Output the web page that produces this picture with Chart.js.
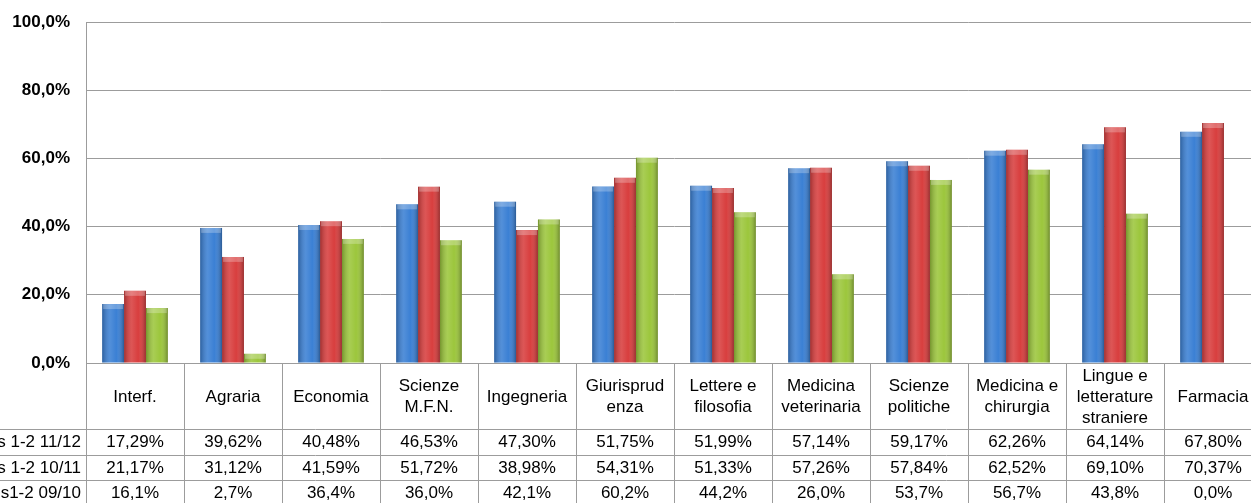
<!DOCTYPE html>
<html>
<head>
<meta charset="utf-8">
<script src="https://cdn.jsdelivr.net/npm/chart.js@4"></script>
<style>
  html, body { margin: 0; padding: 0; overflow: hidden; background: #fff; }
  canvas { display: block; }
</style>
</head>
<body>
<canvas id="chart" width="1262" height="503"></canvas>
<script>
const categories = [
  ["Interf."], ["Agraria"], ["Economia"], ["Scienze", "M.F.N."], ["Ingegneria"],
  ["Giurisprud", "enza"], ["Lettere e", "filosofia"], ["Medicina", "veterinaria"],
  ["Scienze", "politiche"], ["Medicina e", "chirurgia"],
  ["Lingue e", "letterature", "straniere"], ["Farmacia"]
];
const seriesNames = ["s 1-2 11/12", "s 1-2 10/11", "s1-2 09/10"];
const values1112 = [17.29, 39.62, 40.48, 46.53, 47.30, 51.75, 51.99, 57.14, 59.17, 62.26, 64.14, 67.80];
const values1011 = [21.17, 31.12, 41.59, 51.72, 38.98, 54.31, 51.33, 57.26, 57.84, 62.52, 69.10, 70.37];
const values0910 = [16.1, 2.7, 36.4, 36.0, 42.1, 60.2, 44.2, 26.0, 53.7, 56.7, 43.8, 0.0];
const decimals = [2, 2, 1];
const yTicks = [0, 20, 40, 60, 80, 100];

const colors = ["#3b80d4", "#d83e3e", "#9cc63c"];
const gridColor = "#9c9c9c";
const font = "Liberation Sans, Arial, sans-serif";

function fmt(v, d) {
  return v.toFixed(d).replace(".", ",") + "%";
}

// shading so the bars look like the rounded excel columns
const shadePlugin = {
  id: "shade",
  afterDatasetsDraw(chart) {
    const ctx = chart.ctx;
    chart.data.datasets.forEach((ds, i) => {
      chart.getDatasetMeta(i).data.forEach(bar => {
        const left = bar.x - bar.width / 2;
        const top = Math.min(bar.y, bar.base);
        const h = Math.abs(bar.base - bar.y);
        if (h < 0.5) return;
        const g = ctx.createLinearGradient(left, 0, left + bar.width, 0);
        g.addColorStop(0, "rgba(0,0,0,0.25)");
        g.addColorStop(0.35, "rgba(255,255,255,0.12)");
        g.addColorStop(0.65, "rgba(255,255,255,0.0)");
        g.addColorStop(1, "rgba(0,0,0,0.3)");
        ctx.save();
        ctx.fillStyle = g;
        ctx.fillRect(left, top, bar.width, h);
        const cap = Math.min(5, h);
        ctx.fillStyle = "rgba(255,255,255,0.25)";
        ctx.fillRect(left + 1, top, bar.width - 2, cap);
        ctx.restore();
      });
    });
  }
};

// data table below the plot
const tablePlugin = {
  id: "table",
  afterDraw(chart) {
    const ctx = chart.ctx;
    const xs = chart.scales.x;
    const area = chart.chartArea;
    const step = xs.getPixelForValue(1) - xs.getPixelForValue(0);
    const top = area.bottom;
    const headerBottom = top + 66;
    const rowH = 25.5;
    const bottom = chart.height;
    ctx.save();
    ctx.strokeStyle = gridColor;
    ctx.lineWidth = 1;
    ctx.beginPath();
    for (let i = 0; i <= categories.length; i++) {
      const x = Math.round(xs.getPixelForValue(i) - step / 2) + 0.5;
      ctx.moveTo(x, top);
      ctx.lineTo(x, bottom);
    }
    for (let r = 0; r < 3; r++) {
      const y = Math.round(headerBottom + r * rowH) + 0.5;
      ctx.moveTo(0, y);
      ctx.lineTo(chart.width, y);
    }
    ctx.stroke();

    ctx.fillStyle = "#000";
    ctx.font = "17px " + font;
    ctx.textAlign = "center";
    ctx.textBaseline = "middle";
    const lineH = 21;
    categories.forEach((lines, i) => {
      const cx = xs.getPixelForValue(i);
      const cy = (top + headerBottom) / 2 + 1;
      lines.forEach((t, k) => {
        ctx.fillText(t, cx, cy + (k - (lines.length - 1) / 2) * lineH);
      });
    });

    const rows = [values1112, values1011, values0910];
    rows.forEach((vals, r) => {
      const cy = headerBottom + r * rowH + rowH / 2 + 1;
      ctx.textAlign = "right";
      ctx.fillText(seriesNames[r], area.left - 5, cy);
      ctx.textAlign = "center";
      vals.forEach((v, i) => {
        ctx.fillText(fmt(v, decimals[r]), xs.getPixelForValue(i), cy);
      });
    });
    ctx.restore();
  }
};

new Chart(document.getElementById("chart"), {
  type: "bar",
  data: {
    labels: categories.map(c => c.join(" ")),
    datasets: [
      { label: seriesNames[0], data: values1112, backgroundColor: colors[0] },
      { label: seriesNames[1], data: values1011, backgroundColor: colors[1] },
      { label: seriesNames[2], data: values0910, backgroundColor: colors[2] }
    ]
  },
  options: {
    responsive: false,
    animation: false,
    layout: { padding: { top: 22, left: 0, right: 0, bottom: 0 } },
    plugins: {
      legend: { display: false },
      tooltip: { enabled: false }
    },
    datasets: {
      bar: { categoryPercentage: 0.67, barPercentage: 1.0, borderWidth: 0 }
    },
    scales: {
      x: {
        grid: { display: false, drawTicks: false },
        border: { color: gridColor, width: 1 },
        ticks: { display: false },
        afterFit(scale) { scale.height = 140; }
      },
      y: {
        min: 0,
        max: 100,
        afterBuildTicks(scale) { scale.ticks = yTicks.map(v => ({ value: v })); },
        grid: { color: gridColor, drawTicks: false },
        border: { color: gridColor, width: 1 },
        ticks: {
          padding: 16,
          color: "#000",
          font: { family: font, size: 17, weight: "bold" },
          callback: v => fmt(v, 1)
        },
        afterFit(scale) {
          scale.width = 86;
          scale.paddingTop = 0;
          scale.paddingBottom = 0;
        }
      }
    }
  },
  plugins: [shadePlugin, tablePlugin]
});
</script>
</body>
</html>
